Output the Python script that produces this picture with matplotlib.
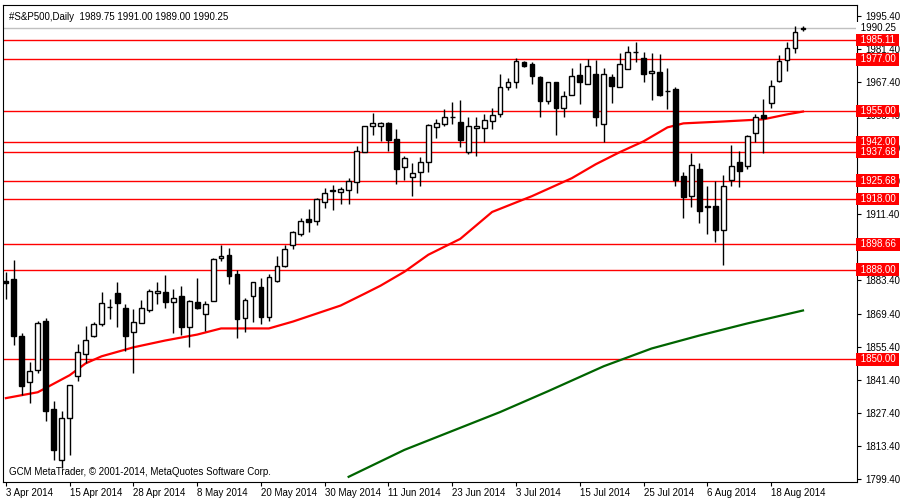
import matplotlib.pyplot as plt

# daily candles, 3 Apr 2014 .. 22 Aug 2014
opens = [1883.3, 1884.1, 1860.1, 1840.3, 1845.4, 1866.4, 1828.9, 1807.5, 1825.1, 1842.9,
         1852.1, 1859.7, 1864.8, 1872.3, 1878.2, 1871.9, 1861.8, 1865.6, 1870.7, 1878.2,
         1878.7, 1874.4, 1877.0, 1863.9, 1874.4, 1869.4, 1874.9, 1893.0, 1894.3, 1886.3,
         1867.7, 1877.0, 1880.8, 1868.1, 1883.3, 1889.6, 1898.5, 1903.1, 1909.4, 1908.6,
         1916.6, 1921.6, 1920.8, 1921.6, 1925.0, 1937.7, 1948.6, 1948.6, 1949.9, 1943.1,
         1931.3, 1927.1, 1929.2, 1933.5, 1948.2, 1949.5, 1952.8, 1950.3, 1937.7, 1947.8,
         1947.8, 1950.7, 1953.7, 1965.5, 1967.2, 1976.0, 1975.2, 1969.7, 1959.2, 1967.6,
         1956.6, 1962.1, 1970.5, 1966.7, 1970.9, 1949.5, 1969.7, 1965.1, 1973.1, 1980.2,
         1977.7, 1971.4, 1971.8, 1963.8, 1964.6, 1927.6, 1919.1, 1930.5, 1914.9, 1914.9,
         1904.8, 1925.9, 1933.5, 1931.8, 1945.7, 1953.3, 1958.7, 1968.0, 1976.9, 1981.9,
         1989.75]
highs = [1887.1, 1892.1, 1861.0, 1848.7, 1866.4, 1867.7, 1832.3, 1828.1, 1839.0, 1856.7,
         1864.3, 1866.0, 1878.7, 1875.7, 1882.9, 1873.6, 1871.5, 1875.3, 1879.9, 1882.9,
         1885.8, 1879.9, 1881.2, 1875.3, 1884.6, 1874.9, 1893.0, 1898.5, 1897.2, 1887.9,
         1876.1, 1882.9, 1884.6, 1886.3, 1893.8, 1898.5, 1904.4, 1909.9, 1913.6, 1918.3,
         1922.5, 1923.8, 1922.9, 1926.7, 1940.2, 1948.6, 1954.1, 1950.3, 1950.3, 1947.4,
         1936.0, 1933.0, 1935.6, 1949.5, 1951.6, 1955.8, 1959.1, 1959.6, 1952.4, 1952.4,
         1953.7, 1956.2, 1970.9, 1969.3, 1977.7, 1976.4, 1976.0, 1970.1, 1967.6, 1967.6,
         1963.4, 1973.5, 1975.6, 1977.3, 1976.9, 1973.5, 1970.9, 1979.8, 1982.8, 1984.4,
         1980.2, 1979.8, 1979.4, 1973.5, 1965.1, 1929.2, 1937.3, 1933.0, 1923.3, 1925.4,
         1928.0, 1940.6, 1938.1, 1944.8, 1953.7, 1960.4, 1968.4, 1979.0, 1984.4, 1991.2,
         1991.0]
lows = [1875.7, 1855.9, 1834.8, 1831.5, 1844.1, 1823.9, 1807.5, 1804.1, 1809.6, 1840.7,
        1848.3, 1859.3, 1864.3, 1867.3, 1863.9, 1853.4, 1844.1, 1865.2, 1870.2, 1873.6,
        1871.9, 1861.0, 1860.5, 1855.1, 1871.5, 1862.2, 1874.9, 1891.7, 1882.0, 1858.9,
        1861.8, 1866.0, 1864.8, 1866.4, 1882.9, 1889.2, 1896.8, 1902.3, 1903.9, 1906.9,
        1914.1, 1913.2, 1915.7, 1915.7, 1920.4, 1937.7, 1944.8, 1942.3, 1938.1, 1924.2,
        1925.9, 1919.1, 1923.3, 1929.2, 1943.6, 1948.6, 1949.5, 1939.8, 1936.8, 1936.0,
        1941.9, 1947.4, 1952.8, 1964.2, 1965.0, 1973.9, 1966.7, 1952.4, 1957.9, 1944.8,
        1952.8, 1962.1, 1958.3, 1966.7, 1948.6, 1941.9, 1958.7, 1965.1, 1973.1, 1976.0,
        1967.2, 1960.0, 1961.3, 1955.8, 1923.3, 1909.9, 1914.5, 1907.8, 1903.1, 1899.7,
        1890.0, 1923.3, 1922.9, 1930.5, 1941.9, 1937.3, 1956.2, 1967.6, 1972.2, 1979.8,
        1989.0]
closes = [1882.5, 1860.1, 1838.6, 1844.9, 1865.2, 1828.1, 1811.7, 1825.1, 1839.0, 1853.0,
          1858.0, 1864.8, 1874.0, 1872.1, 1874.0, 1859.7, 1866.0, 1871.9, 1879.1, 1879.1,
          1874.4, 1876.1, 1863.9, 1874.9, 1871.9, 1873.6, 1892.6, 1893.8, 1885.4, 1866.9,
          1875.3, 1882.9, 1868.1, 1885.0, 1889.6, 1896.8, 1903.9, 1908.6, 1908.2, 1917.9,
          1920.4, 1921.4, 1922.1, 1925.4, 1938.1, 1948.6, 1949.9, 1949.9, 1942.7, 1930.5,
          1935.1, 1928.8, 1933.5, 1949.0, 1949.9, 1952.8, 1952.6, 1942.7, 1948.6, 1948.6,
          1951.2, 1953.3, 1965.5, 1967.6, 1976.4, 1974.3, 1970.1, 1959.2, 1967.2, 1956.6,
          1961.3, 1970.1, 1967.2, 1974.3, 1952.4, 1970.9, 1965.9, 1975.2, 1980.2, 1980.0,
          1970.9, 1972.2, 1962.1, 1963.6, 1925.9, 1918.7, 1932.2, 1912.8, 1914.7, 1904.8,
          1923.3, 1931.8, 1929.7, 1944.4, 1952.8, 1952.0, 1965.9, 1976.4, 1981.9, 1988.7,
          1990.25]

# moving averages read at selected bars
ma_red_idx = [0, 4, 8, 10, 12, 16, 20, 24, 27, 33, 36, 39, 42, 45, 47, 50, 53, 57, 61,
              66, 71, 74, 77, 80, 83, 85, 90, 95, 98, 100]
ma_red = [1833.6, 1836.1, 1843.3, 1848.3, 1851.3, 1855.1, 1858.0, 1860.5, 1863.1, 1863.1,
          1866.0, 1869.4, 1872.8, 1877.8, 1881.2, 1887.1, 1894.3, 1901.0, 1912.4, 1919.1,
          1926.7, 1932.6, 1937.7, 1942.3, 1948.2, 1949.9, 1950.7, 1951.6, 1953.7, 1954.9]
ma_green_idx = [43, 50, 56, 62, 68, 75, 81, 87, 93, 100]
ma_green = [1800.3, 1811.7, 1819.7, 1827.7, 1836.5, 1847.1, 1854.6, 1860.1, 1865.2, 1870.7]

levels = [1985.11, 1977.00, 1955.00, 1942.00, 1937.68, 1925.68, 1918.00, 1898.66, 1888.00, 1850.00]
last_price = 1990.25
yticks = [1995.40, 1981.40, 1967.40, 1953.40, 1939.40, 1925.40, 1911.40, 1897.40,
          1883.40, 1869.40, 1855.40, 1841.40, 1827.40, 1813.40, 1799.40]
date_labels = ["3 Apr 2014", "15 Apr 2014", "28 Apr 2014", "8 May 2014", "20 May 2014",
               "30 May 2014", "11 Jun 2014", "23 Jun 2014", "3 Jul 2014", "15 Jul 2014",
               "25 Jul 2014", "6 Aug 2014", "18 Aug 2014"]

plt.rcParams['font.family'] = ['Liberation Sans', 'DejaVu Sans']
fs = 7
fig = plt.figure(figsize=(9, 5), dpi=100)
ax = fig.add_axes([0.003, 0.036, 0.949, 0.954])
ax.set_xlim(-0.4, 106.75)
ax.set_ylim(1798.1, 2000.0)

for lv in levels:
    ax.axhline(lv, color='#ff0000', lw=1, zorder=1)
ax.axhline(last_price, color='#c0c0c0', lw=1, zorder=1)

ax.plot(ma_red_idx, ma_red, color='#ff0000', lw=1.6, zorder=2)
ax.plot(ma_green_idx, ma_green, color='#006400', lw=1.6, zorder=2)

for i in range(len(opens)):
    o, h, l, c = opens[i], highs[i], lows[i], closes[i]
    ax.vlines(i, l, h, color='black', lw=1, zorder=3)
    bottom = min(o, c)
    height = max(abs(c - o), 0.15)
    fill = 'white' if c >= o else 'black'
    ax.bar(i, height, bottom=bottom, width=0.6, color=fill, edgecolor='black',
           linewidth=1, zorder=4)

ax.yaxis.tick_right()
ax.set_yticks(yticks)
ax.set_yticklabels([f"{v:.2f}" for v in yticks], fontsize=fs)
ax.tick_params(axis='y', length=3, pad=3)
ax.set_xticks(range(0, 8 * len(date_labels), 8))
ax.set_xticklabels(date_labels, fontsize=fs, ha='left')
ax.tick_params(axis='x', length=3, pad=1)

for lv in levels:
    ax.text(1.001, lv, f" {lv:.2f} ", transform=ax.get_yaxis_transform(), fontsize=fs,
            color='white', va='center', ha='left', zorder=10,
            bbox=dict(boxstyle='square,pad=0.12', fc='#ff0000', ec='none'), clip_on=False)
ax.text(1.001, last_price, f" {last_price:.2f} ", transform=ax.get_yaxis_transform(),
        fontsize=fs, color='black', va='center', ha='left', zorder=10,
        bbox=dict(boxstyle='square,pad=0.12', fc='white', ec='none'), clip_on=False)

ax.text(0.007, 0.985, "#S&P500,Daily  1989.75 1991.00 1989.00 1990.25", transform=ax.transAxes,
        fontsize=fs, va='top', ha='left')
ax.text(0.007, 0.01, "GCM MetaTrader, \u00a9 2001-2014, MetaQuotes Software Corp.",
        transform=ax.transAxes, fontsize=fs, va='bottom', ha='left')

fig.savefig("out.png", dpi=100)
